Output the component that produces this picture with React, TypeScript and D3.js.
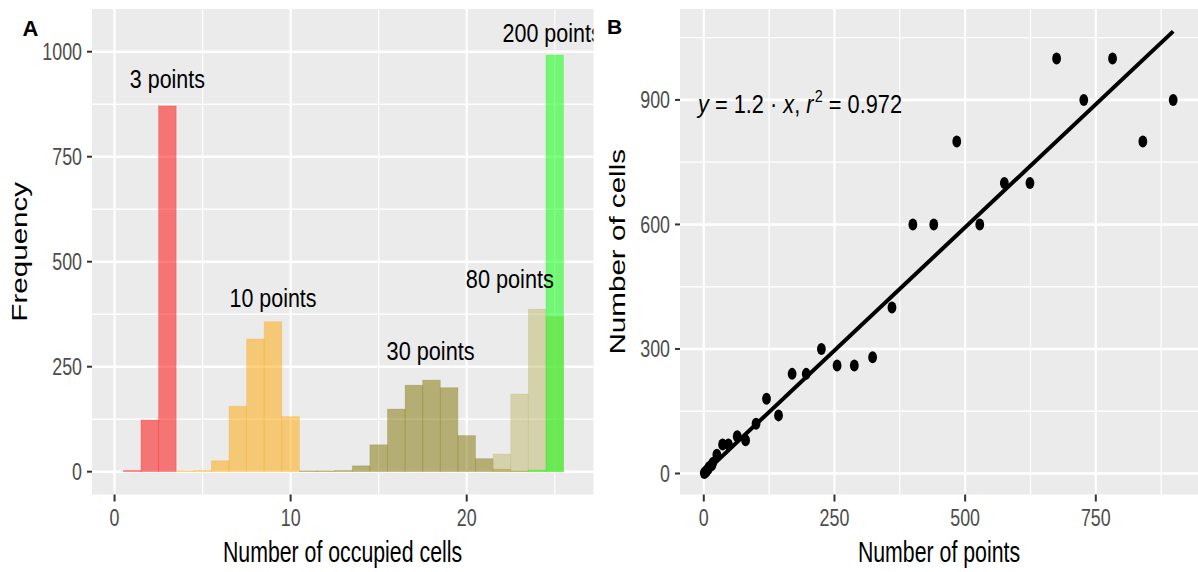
import React from "react";
import * as d3 from "d3";

// ---------- Panel A data (histogram of occupied cells) ----------
const bins: number[] = [1, 2, 3, 4, 5, 6, 7, 8, 9, 10, 11, 12, 13, 14, 15, 16, 17, 18, 19, 20, 21, 22, 23, 24, 25];
const counts3: number[] = [3, 123, 871, 0, 0, 0, 0, 0, 0, 0, 0, 0, 0, 0, 0, 0, 0, 0, 0, 0, 0, 0, 0, 0, 0];
const counts10: number[] = [0, 0, 0, 2, 3, 26, 156, 316, 357, 131, 0, 0, 0, 0, 0, 0, 0, 0, 0, 0, 0, 0, 0, 0, 0];
const counts30: number[] = [0, 0, 0, 0, 0, 0, 0, 0, 0, 0, 2, 2, 3, 14, 64, 149, 206, 218, 200, 86, 31, 6, 2, 0, 0];
const counts80: number[] = [0, 0, 0, 0, 0, 0, 0, 0, 0, 0, 0, 0, 0, 0, 0, 0, 0, 0, 0, 0, 0, 42, 185, 387, 369];
const counts200: number[] = [0, 0, 0, 0, 0, 0, 0, 0, 0, 0, 0, 0, 0, 0, 0, 0, 0, 0, 0, 0, 0, 0, 0, 4, 992];
const seriesColors: string[] = ["#FF0000", "#FFA500", "#7E7200", "#BDB76B", "#00FF00"];
const seriesNames: string[] = ["3 points", "10 points", "30 points", "80 points", "200 points"];
const labelX: number[] = [3, 9, 17.95, 22.45, 24.85];
const labelY: number[] = [913, 393, 266, 437, 1024];
const labelWidths: number[] = [75, 87, 88, 88, 99];

const xTicksA: number[] = [0, 10, 20];
const xMinorA: number[] = [5, 15, 25];
const yTicksA: number[] = [0, 250, 500, 750, 1000];
const yMinorA: number[] = [125, 375, 625, 875];

// ---------- Panel B data (cells vs points) ----------
const pointsX: number[] = [1, 3, 5, 8, 10, 15, 17, 25, 36, 47, 64, 80, 100, 120, 143, 169, 196, 225, 255, 288, 323, 360, 400, 440, 484, 528, 575, 624, 675, 727, 782, 840, 898];
const cellsY: number[] = [1, 3, 6, 10, 15, 20, 25, 45, 70, 70, 90, 80, 120, 180, 140, 240, 240, 300, 260, 260, 280, 400, 600, 600, 800, 600, 700, 700, 1000, 900, 1000, 800, 900];
const fitSlope = 1.186;
const xTicksB: number[] = [0, 250, 500, 750];
const xMinorB: number[] = [125, 375, 625, 875];
const yTicksB: number[] = [0, 300, 600, 900];
const yMinorB: number[] = [150, 450, 750, 1050];
const eqPos: number[] = [-11, 869];

// ---------- scales ----------
const top = 9;
const bottom = 494.5;
const xA = d3.scaleLinear().domain([-1.28, 27.2]).range([92, 593.5]);
const yA = d3.scaleLinear().domain([-54.3, 1101.7]).range([bottom, top]);
const xB = d3.scaleLinear().domain([-45.5, 945.5]).range([680, 1198]);
const yB = d3.scaleLinear().domain([-50.6, 1119]).range([bottom, top]);

const FONT = "'Liberation Sans', Arial, Helvetica, sans-serif";
const TICK_SIZE = 23.5;
const TICK_SX = 0.76;
const TITLE_SIZE = 29.6;
const TITLE_SX = 0.72;
const TICK_COLOR = "#4D4D4D";
const CAP = 0.716;

function SText(props: {
  x: number; y: number; size: number; sx: number; anchor?: string; fill?: string;
  rotate?: boolean; weight?: string; children?: React.ReactNode;
}) {
  const x = props.x;
  const y = props.y;
  const anchor = props.anchor || "middle";
  const fill = props.fill || "#000";
  const tr = props.rotate
    ? `translate(${x},${y}) rotate(-90) scale(1,${props.sx})`
    : `translate(${x},${y}) scale(${props.sx},1)`;
  return (
    <g transform={tr}>
      <text x={0} y={0} fontSize={props.size} textAnchor={anchor} fill={fill} fontWeight={props.weight} fontFamily={FONT}>
        {props.children}
      </text>
    </g>
  );
}

function Panel(props: {
  x: d3.ScaleLinear<number, number>; y: d3.ScaleLinear<number, number>;
  xt: number[]; xm: number[]; yt: number[]; ym: number[]; id: string;
  children?: React.ReactNode;
}) {
  const x = props.x;
  const y = props.y;
  const [x0, x1] = x.range();
  const [y0, y1] = y.range();
  const capOff = (TICK_SIZE * CAP) / 2;
  return (
    <g>
      <defs>
        <clipPath id={props.id}>
          <rect x={x0} y={y1} width={x1 - x0} height={y0 - y1} />
        </clipPath>
      </defs>
      <rect x={x0} y={y1} width={x1 - x0} height={y0 - y1} fill="#EBEBEB" />
      <g clipPath={`url(#${props.id})`}>
        {props.ym.map((v) => (
          <line key={"ym" + v} x1={x0} x2={x1} y1={y(v)} y2={y(v)} stroke="#fff" strokeWidth={1.4} />
        ))}
        {props.xm.map((v) => (
          <line key={"xm" + v} x1={x(v)} x2={x(v)} y1={y1} y2={y0} stroke="#fff" strokeWidth={1.2} />
        ))}
        {props.yt.map((v) => (
          <line key={"yt" + v} x1={x0} x2={x1} y1={y(v)} y2={y(v)} stroke="#fff" strokeWidth={2.6} />
        ))}
        {props.xt.map((v) => (
          <line key={"xt" + v} x1={x(v)} x2={x(v)} y1={y1} y2={y0} stroke="#fff" strokeWidth={2.1} />
        ))}
        {props.children}
      </g>
      {props.yt.map((v) => (
        <g key={"ytl" + v}>
          <line x1={x0 - 5} x2={x0} y1={y(v)} y2={y(v)} stroke="#333" strokeWidth={2} />
          <SText x={x0 - 10} y={y(v) + capOff} size={TICK_SIZE} sx={TICK_SX} anchor="end" fill={TICK_COLOR}>
            {String(v)}
          </SText>
        </g>
      ))}
      {props.xt.map((v) => (
        <g key={"xtl" + v}>
          <line x1={x(v)} x2={x(v)} y1={y0} y2={y0 + 7} stroke="#333" strokeWidth={2} />
          <SText x={x(v)} y={526} size={TICK_SIZE} sx={TICK_SX} fill={TICK_COLOR}>
            {String(v)}
          </SText>
        </g>
      ))}
    </g>
  );
}

export default function App() {
  const allCounts = [counts3, counts10, counts30, counts80, counts200];
  const line = d3
    .line<number>()
    .x((d) => xB(d))
    .y((d) => yB(fitSlope * d));
  const lineXs = [0, d3.max(pointsX) as number];
  return (
    <svg
      width={1198}
      height={572}
      style={{ position: "absolute", left: 0, top: 0, background: "#fff" }}
      fontFamily={FONT}
    >
      <rect x={0} y={0} width={1198} height={572} fill="#fff" />
      {/* Panel A */}
      <Panel x={xA} y={yA} xt={xTicksA} xm={xMinorA} yt={yTicksA} ym={yMinorA} id="clipA">
        {allCounts.map((counts, si) => (
          <g key={"s" + si}>
            {bins.map((b, i) =>
              counts[i] > 0 ? (
                <rect
                  key={b}
                  x={xA(b - 0.5)}
                  width={xA(b + 0.5) - xA(b - 0.5)}
                  y={yA(counts[i])}
                  height={yA(0) - yA(counts[i])}
                  fill={seriesColors[si]}
                  fillOpacity={0.5}
                  stroke={seriesColors[si]}
                  strokeOpacity={0.25}
                  strokeWidth={0.8}
                />
              ) : null
            )}
          </g>
        ))}
        {seriesNames.map((n, i) => (
          <text
            key={n}
            x={xA(labelX[i])}
            y={yA(labelY[i])}
            fontSize={25.6}
            textAnchor="middle"
            textLength={labelWidths[i]}
            lengthAdjust="spacingAndGlyphs"
            fill="#000"
          >
            {n}
          </text>
        ))}
      </Panel>
      <SText x={342.5} y={562} size={TITLE_SIZE} sx={TITLE_SX}>
        Number of occupied cells
      </SText>
      <SText x={26.7} y={251.75} size={TITLE_SIZE} sx={TITLE_SX} rotate>
        Frequency
      </SText>
      <text x={22.5} y={36} fontSize={22} fontWeight="bold" fill="#000">A</text>

      {/* Panel B */}
      <Panel x={xB} y={yB} xt={xTicksB} xm={xMinorB} yt={yTicksB} ym={yMinorB} id="clipB">
        {pointsX.map((px, i) => (
          <ellipse key={"p" + i} cx={xB(px)} cy={yB(cellsY[i])} rx={4.4} ry={6} fill="#000" />
        ))}
        <path d={line(lineXs) || ""} stroke="#000" strokeWidth={4} fill="none" />
        <text
          x={xB(eqPos[0])}
          y={yB(eqPos[1])}
          fontSize={25.6}
          textLength={204}
          lengthAdjust="spacingAndGlyphs"
          fill="#000"
        >
          <tspan fontStyle="italic">y</tspan>
          {" = 1.2 \u00B7 "}
          <tspan fontStyle="italic">x</tspan>
          {",  "}
          <tspan fontStyle="italic">r</tspan>
          <tspan dx={1.5} dy={-11} fontSize={17}>2</tspan>
          <tspan dy={11}>{" = 0.972"}</tspan>
        </text>
      </Panel>
      <SText x={939} y={562} size={TITLE_SIZE} sx={TITLE_SX}>
        Number of points
      </SText>
      <SText x={625} y={251.75} size={TITLE_SIZE} sx={TITLE_SX} rotate>
        Number of cells
      </SText>
      <text x={607} y={34} fontSize={21} fontWeight="bold" fill="#000">B</text>
    </svg>
  );
}
